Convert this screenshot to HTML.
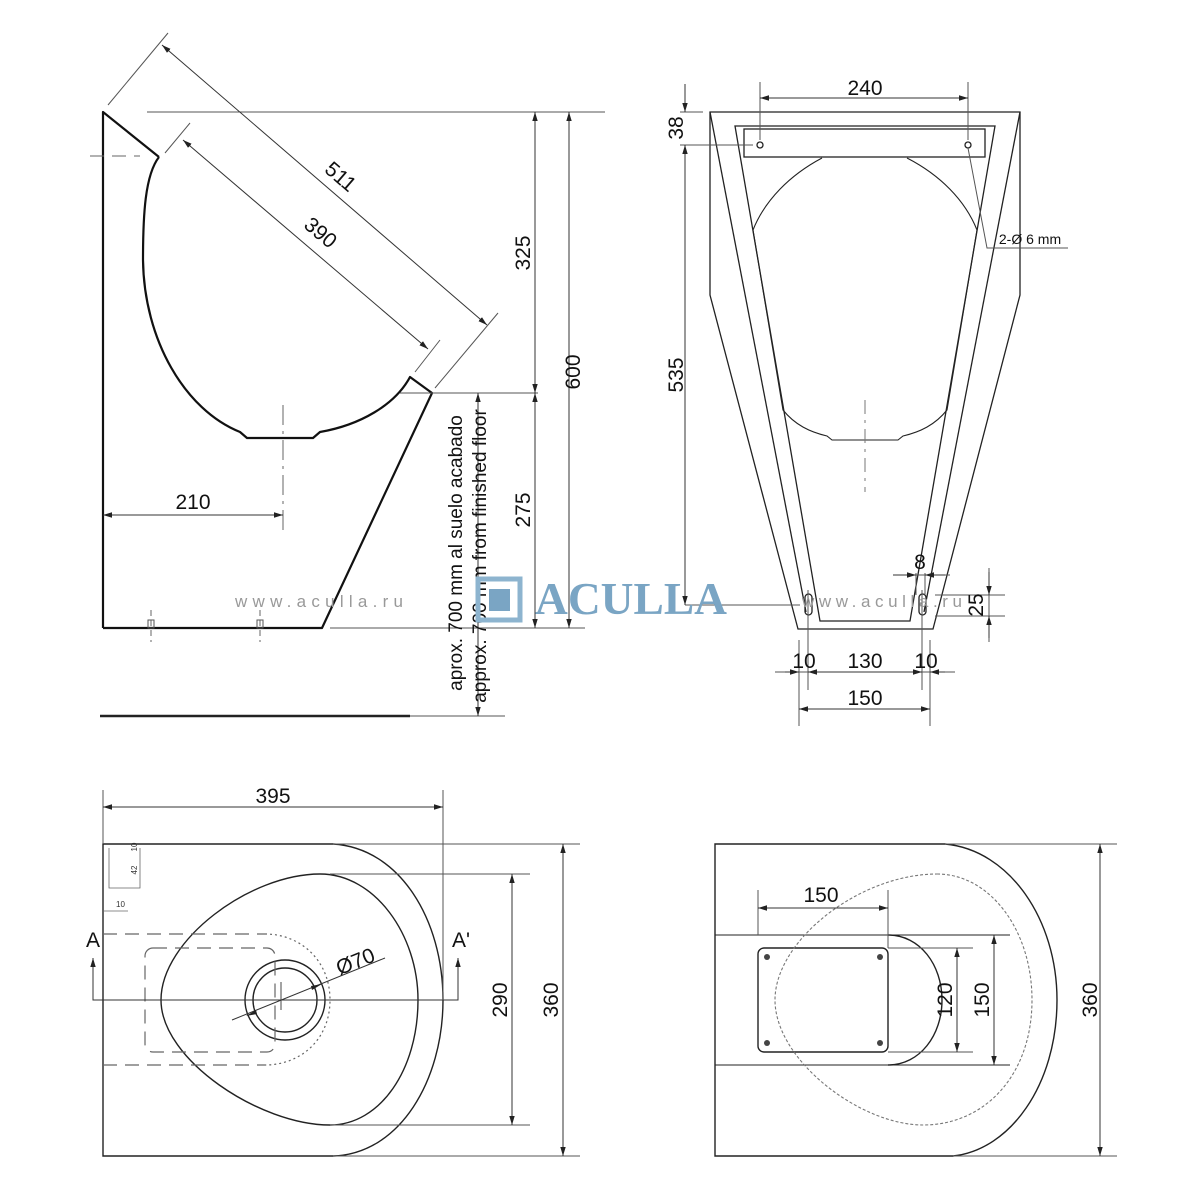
<!DOCTYPE html>
<html><head><meta charset="utf-8"><style>html,body{margin:0;padding:0;background:#fff}svg{display:block}</style></head>
<body>
<svg width="1200" height="1200" viewBox="0 0 1200 1200" xmlns="http://www.w3.org/2000/svg" font-family="'Liberation Sans', sans-serif">
<defs>
<marker id="a" viewBox="0 0 10 10" refX="10" refY="5" markerWidth="9" markerHeight="9" orient="auto-start-reverse" markerUnits="userSpaceOnUse"><path d="M0,2 L10,5 L0,8 z" fill="#222"/></marker>
</defs>
<rect width="1200" height="1200" fill="#fff"/>

<!-- ===== SIDE VIEW ===== -->
<g fill="none" stroke="#111" stroke-width="2.2" stroke-linejoin="round">
<path d="M103,628 L103,112 L159,157"/>
<path d="M159,157 C145,175 143,215 143,260 C144,340 185,410 240,432 L247,438 L313,438 L320,432 C360,425 395,405 410,377 L432,393 L322,628 L103,628"/>
</g>
<g stroke="#666" stroke-width="1" fill="none">
<line x1="90" y1="156" x2="140" y2="156" stroke-dasharray="14,8"/>
<line x1="283" y1="405" x2="283" y2="532" stroke-dasharray="20,6,3,6"/>
<line x1="151" y1="610" x2="151" y2="642" stroke-dasharray="6,4"/>
<line x1="260" y1="610" x2="260" y2="642" stroke-dasharray="6,4"/>
</g>
<rect x="148" y="620" width="6" height="8" fill="none" stroke="#555"/>
<rect x="257" y="620" width="6" height="8" fill="none" stroke="#555"/>
<line x1="100" y1="716" x2="410" y2="716" stroke="#222" stroke-width="2.5"/>
<g stroke="#555" stroke-width="1" fill="none">
<line x1="147" y1="112" x2="605" y2="112"/>
<line x1="400" y1="393" x2="538" y2="393"/>
<line x1="330" y1="628" x2="585" y2="628"/>
<line x1="410" y1="716" x2="505" y2="716"/>
<line x1="108" y1="105" x2="168" y2="33"/>
<line x1="435" y1="388" x2="498" y2="313"/>
<line x1="165" y1="153" x2="190" y2="123"/>
<line x1="415" y1="372" x2="440" y2="340"/>
</g>
<g stroke="#333" stroke-width="1" marker-start="url(#a)" marker-end="url(#a)">
<line x1="162" y1="45" x2="487" y2="325"/>
<line x1="183" y1="140" x2="428" y2="349"/>
<line x1="535" y1="112" x2="535" y2="393"/>
<line x1="535" y1="393" x2="535" y2="628"/>
<line x1="569" y1="112" x2="569" y2="628"/>
<line x1="478" y1="393" x2="478" y2="716"/>
<line x1="103" y1="515" x2="283" y2="515"/>
</g>
<g font-size="21" fill="#111" text-anchor="middle">
<text transform="translate(336,182) rotate(40.7)">511</text>
<text transform="translate(316,238) rotate(40.5)">390</text>
<text transform="translate(530,253) rotate(-90)">325</text>
<text transform="translate(580,372) rotate(-90)">600</text>
<text transform="translate(530,510) rotate(-90)">275</text>
<text x="193" y="509">210</text>
<text transform="translate(462,553) rotate(-90)" font-size="19">aprox. 700 mm al suelo acabado</text>
<text transform="translate(486,556) rotate(-90)" font-size="19">approx. 700 mm from finished floor</text>
</g>

<!-- ===== FRONT VIEW ===== -->
<g fill="none" stroke="#222" stroke-width="1.3">
<path d="M710,112 L1020,112 L1020,295 L933,629 L798,629 L710,295 Z"/>
<line x1="710" y1="112" x2="806" y2="612"/>
<line x1="1020" y1="112" x2="924" y2="612"/>
<path d="M735,126 L995,126 L910,621 L820,621 Z"/>
<rect x="744" y="129" width="241" height="28"/>
<path d="M822,158 C790,175 765,200 753,230 L783,410 C795,425 810,432 827,436 L832,440 L898,440 L903,436 C920,432 935,425 947,410 L977,230 C965,200 940,175 907,158" stroke-width="1.1"/>
<circle cx="760" cy="145" r="3"/>
<circle cx="968" cy="145" r="3"/>
<rect x="805" y="594" width="7" height="21" rx="3.5"/>
<rect x="919" y="594" width="7" height="21" rx="3.5"/>
</g>
<line x1="865" y1="400" x2="865" y2="492" stroke="#777" stroke-dasharray="14,6,3,6"/>
<g stroke="#555" stroke-width="1" fill="none">
<line x1="760" y1="82" x2="760" y2="140"/>
<line x1="968" y1="82" x2="968" y2="140"/>
<line x1="680" y1="112" x2="703" y2="112"/>
<line x1="680" y1="145" x2="753" y2="145"/>
<line x1="685" y1="605" x2="800" y2="605"/>
<polyline points="968,148 987,248 1068,248"/>
<line x1="808" y1="590" x2="808" y2="690"/>
<line x1="922" y1="590" x2="922" y2="690"/>
<line x1="799" y1="640" x2="799" y2="726"/>
<line x1="930" y1="640" x2="930" y2="726"/>
<line x1="775" y1="672" x2="955" y2="672"/>
<line x1="893" y1="575" x2="950" y2="575"/>
<line x1="916" y1="573" x2="916" y2="595"/>
<line x1="925" y1="573" x2="925" y2="595"/>
<line x1="935" y1="595" x2="1005" y2="595"/>
<line x1="935" y1="616" x2="1005" y2="616"/>
<line x1="989" y1="568" x2="989" y2="642"/>
</g>
<g stroke="#333" stroke-width="1" marker-start="url(#a)" marker-end="url(#a)">
<line x1="760" y1="98" x2="968" y2="98"/>
<line x1="685" y1="145" x2="685" y2="605"/>
<line x1="799" y1="709" x2="930" y2="709"/>
<line x1="808" y1="672" x2="922" y2="672"/>
</g>
<g stroke="#333" stroke-width="1" marker-end="url(#a)">
<line x1="685" y1="84" x2="685" y2="112"/>
<line x1="785" y1="672" x2="799" y2="672"/>
<line x1="945" y1="672" x2="930" y2="672"/>
<line x1="893" y1="575" x2="916" y2="575"/>
<line x1="945" y1="575" x2="925" y2="575"/>
<line x1="989" y1="572" x2="989" y2="595"/>
<line x1="989" y1="638" x2="989" y2="616"/>
</g>
<g font-size="21" fill="#111" text-anchor="middle">
<text x="865" y="95">240</text>
<text transform="translate(683,128) rotate(-90)">38</text>
<text transform="translate(683,375) rotate(-90)">535</text>
<text x="1030" y="244" font-size="14">2-Ø 6 mm</text>
<text x="920" y="569">8</text>
<text transform="translate(983,605) rotate(-90)">25</text>
<text x="804" y="668">10</text>
<text x="865" y="668">130</text>
<text x="926" y="668">10</text>
<text x="865" y="705">150</text>
</g>

<!-- ===== PLAN LEFT ===== -->
<g fill="none" stroke="#222" stroke-width="1.4">
<path d="M103,1156 L103,844 L333,844 C400,848 443,920 443,1000 C443,1080 400,1154 333,1156 Z"/>
<path d="M320,874 C375,874 418,935 418,1000 C418,1070 380,1125 330,1125 C260,1125 161,1060 161,1000 C161,940 250,874 320,874 Z"/>
<circle cx="285" cy="1000" r="40"/>
<circle cx="285" cy="1000" r="32"/>
</g>
<g fill="none" stroke="#666" stroke-width="1.2">
<path d="M103,934 L265,934" stroke-dasharray="14,8"/>
<path d="M103,1065 L265,1065" stroke-dasharray="14,8"/>
<path d="M265,934 C300,934 330,960 330,1000 C330,1040 300,1065 265,1065" stroke-dasharray="2,3"/>
<rect x="145" y="948" width="130" height="104" rx="8" stroke-dasharray="14,8"/>
<line x1="281" y1="982" x2="281" y2="1010"/>
<path d="M109,848 L109,888 L140,888 L140,848" stroke-width="0.8"/>
<line x1="103" y1="911" x2="128" y2="911" stroke-width="0.8"/>
</g>
<g font-size="8" fill="#333"><text transform="translate(137,870) rotate(-90)" text-anchor="middle">42</text><text transform="translate(137,847) rotate(-90)" text-anchor="middle">10</text><text x="116" y="907">10</text></g>
<g stroke="#333" stroke-width="1" fill="none">
<polyline points="93,958 93,1000 458,1000 458,958" marker-start="url(#a)" marker-end="url(#a)"/>
<line x1="232" y1="1020" x2="385" y2="958"/>
</g>
<path d="M246,1016 L256,1010 L257,1014 Z M322,984 L312,990 L311,986 Z" fill="#222"/>
<g stroke="#555" stroke-width="1">
<line x1="103" y1="790" x2="103" y2="844"/>
<line x1="443" y1="790" x2="443" y2="1000"/>
<line x1="330" y1="874" x2="530" y2="874"/>
<line x1="330" y1="1125" x2="530" y2="1125"/>
<line x1="333" y1="844" x2="580" y2="844"/>
<line x1="333" y1="1156" x2="580" y2="1156"/>
</g>
<g stroke="#333" stroke-width="1" marker-start="url(#a)" marker-end="url(#a)">
<line x1="103" y1="807" x2="443" y2="807"/>
<line x1="512" y1="874" x2="512" y2="1125"/>
<line x1="563" y1="844" x2="563" y2="1156"/>
</g>
<g font-size="21" fill="#111" text-anchor="middle">
<text x="273" y="803">395</text>
<text x="93" y="947">A</text>
<text x="461" y="947">A'</text>
<text transform="translate(358,968) rotate(-22)">Ø70</text>
<text transform="translate(507,1000) rotate(-90)">290</text>
<text transform="translate(558,1000) rotate(-90)">360</text>
</g>

<!-- ===== PLAN RIGHT ===== -->
<g fill="none" stroke="#222" stroke-width="1.4">
<path d="M715,1156 L715,844 L945,844 C1010,850 1057,920 1057,1000 C1057,1085 1010,1150 953,1156 Z"/>
<line x1="715" y1="935" x2="1010" y2="935" stroke-width="1"/>
<line x1="715" y1="1065" x2="1010" y2="1065" stroke-width="1"/>
<path d="M888,935 C920,935 942,965 942,1000 C942,1035 920,1065 888,1065"/>
<rect x="758" y="948" width="130" height="104" rx="6"/>
</g>
<g fill="#444"><circle cx="767" cy="957" r="3"/><circle cx="880" cy="957" r="3"/><circle cx="767" cy="1043" r="3"/><circle cx="880" cy="1043" r="3"/></g>
<path d="M937,874 C990,874 1032,930 1032,1000 C1032,1075 985,1125 923,1125 C860,1125 775,1060 775,1000 C775,940 860,874 937,874 Z" fill="none" stroke="#777" stroke-width="1.1" stroke-dasharray="3,2"/>
<g stroke="#555" stroke-width="1">
<line x1="758" y1="890" x2="758" y2="935"/>
<line x1="888" y1="890" x2="888" y2="948"/>
<line x1="888" y1="948" x2="973" y2="948"/>
<line x1="888" y1="1052" x2="973" y2="1052"/>
<line x1="945" y1="844" x2="1117" y2="844"/>
<line x1="953" y1="1156" x2="1117" y2="1156"/>
</g>
<g stroke="#333" stroke-width="1" marker-start="url(#a)" marker-end="url(#a)">
<line x1="758" y1="908" x2="888" y2="908"/>
<line x1="957" y1="948" x2="957" y2="1052"/>
<line x1="994" y1="935" x2="994" y2="1065"/>
<line x1="1100" y1="844" x2="1100" y2="1156"/>
</g>
<g font-size="21" fill="#111" text-anchor="middle">
<text x="821" y="902">150</text>
<text transform="translate(952,1000) rotate(-90)">120</text>
<text transform="translate(989,1000) rotate(-90)">150</text>
<text transform="translate(1097,1000) rotate(-90)">360</text>
</g>

<!-- ===== WATERMARK ===== -->
<rect x="478" y="579" width="42" height="41" fill="none" stroke="#8db4cf" stroke-width="5"/>
<rect x="489" y="589" width="21" height="22" fill="#7aa5c4"/>
<text x="535" y="614" font-family="'Liberation Serif', serif" font-weight="bold" font-size="46" fill="#7aa5c4" textLength="192" lengthAdjust="spacingAndGlyphs">ACULLA</text>
<g font-size="17" fill="#999">
<text x="235" y="607" textLength="168" lengthAdjust="spacing">www.aculla.ru</text>
<text x="802" y="607" textLength="160" lengthAdjust="spacing">www.aculla.ru</text>
</g>
</svg>
</body></html>
